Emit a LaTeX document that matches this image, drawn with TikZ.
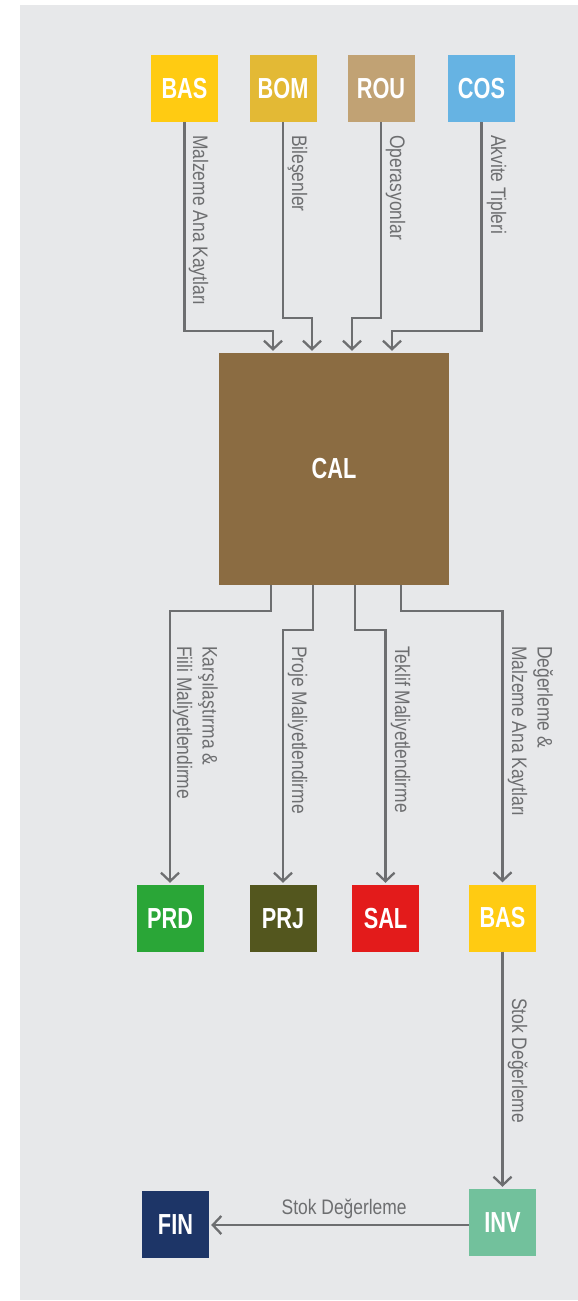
\documentclass[tikz,border=0pt]{standalone}
\usepackage{fontspec}
\setmainfont{Liberation Sans}[FakeStretch=0.83]
\newfontfamily\boxfont{Liberation Sans}[FakeStretch=0.75]
\usetikzlibrary{arrows.meta}
\definecolor{bgray}{HTML}{E7E8EA}
\definecolor{lgray}{HTML}{6D6E70}
\definecolor{cBAS}{HTML}{FFCB12}
\definecolor{cBOM}{HTML}{E3B935}
\definecolor{cROU}{HTML}{C1A274}
\definecolor{cCOS}{HTML}{66B3E3}
\definecolor{cCAL}{HTML}{8B6C42}
\definecolor{cPRD}{HTML}{2AA637}
\definecolor{cPRJ}{HTML}{53561E}
\definecolor{cSAL}{HTML}{E31B1B}
\definecolor{cINV}{HTML}{72C19C}
\definecolor{cFIN}{HTML}{1D3567}
\begin{document}
\begin{tikzpicture}[x=1pt,y=-1pt,
  box/.style={minimum size=67pt, inner sep=0pt, text=white,
    font=\boxfont\bfseries\fontsize{29}{30}\selectfont},
  arr/.style={draw=lgray, line width=2.3pt,
    -{Straight Barb[length=8.5pt,width=18pt]}, shorten >=2pt},
  lbl/.style={font=\fontsize{21}{25.5}\selectfont, text=lgray, rotate=-90,
    anchor=base west, inner sep=0pt, align=left},
  hlbl/.style={font=\fontsize{21}{25.5}\selectfont, text=lgray,
    anchor=base, inner sep=0pt}]
\useasboundingbox (0,0) rectangle (578,1301);
\fill[white] (0,0) rectangle (578,1301);
\fill[bgray] (20,5) rectangle (578,1300);
% top boxes
\node[box, fill=cBAS] (bas) at (184.5,88.5) {BAS};
\node[box, fill=cBOM] (bom) at (283,88.5) {BOM};
\node[box, fill=cROU] (rou) at (381,88.5) {ROU};
\node[box, fill=cCOS] (cos) at (481.5,88.5) {COS};
% central
\node[box, fill=cCAL, minimum width=230pt, minimum height=232pt] (cal) at (334,469) {CAL};
% bottom boxes
\node[box, fill=cPRD] (prd) at (170,918.5) {PRD};
\node[box, fill=cPRJ] (prj) at (283,918.5) {PRJ};
\node[box, fill=cSAL] (sal) at (385.5,918.5) {SAL};
\node[box, fill=cBAS] (bas2) at (502.5,918) {BAS};
\node[box, fill=cINV] (inv) at (502.5,1222.5) {INV};
\node[box, fill=cFIN] (fin) at (175.5,1224.5) {FIN};
% incoming connectors
\draw[arr] (bas.south) |- (273,331) -- (273,0 |- cal.north);
\draw[arr] (bom.south) |- (312,318) -- (312,0 |- cal.north);
\draw[arr] (rou.south) |- (352,318) -- (352,0 |- cal.north);
\draw[arr] (cos.south) |- (392,331) -- (392,0 |- cal.north);
% outgoing connectors
\draw[arr] (271,0 |- cal.south) |- (170,611) -- (prd.north);
\draw[arr] (313,0 |- cal.south) |- (283,630) -- (prj.north);
\draw[arr] (355,0 |- cal.south) |- (385.5,630) -- (sal.north);
\draw[arr] (401,0 |- cal.south) |- (502.5,611) -- (bas2.north);
\draw[arr] (bas2.south) -- (inv.north);
\draw[arr] (inv.west |- 0,1225) -- (fin.east |- 0,1225)
  node[hlbl, pos=0.48, yshift=11pt] (lstok2) {Stok Değerleme};
% labels
\node[lbl] (l1) at (193,135) {Malzeme Ana Kaytları};
\node[lbl] (l2) at (292,135) {Bileşenler};
\node[lbl] (l3) at (390,135) {Operasyonlar};
\node[lbl] (l4) at (491,135) {Akvite Tipleri};
\node[lbl] (l5) at (177,646) {Karşılaştırma \&\\Fiili Maliyetlendirme};
\node[lbl] (l6) at (292,646) {Proje Maliyetlendirme};
\node[lbl] (l7) at (395,646) {Teklif Maliyetlendirme};
\node[lbl] (l8) at (512,646) {Değerleme \&\\Malzeme Ana Kaytları};
\node[lbl] (l9) at (512,998) {Stok Değerleme};
\end{tikzpicture}
\end{document}
